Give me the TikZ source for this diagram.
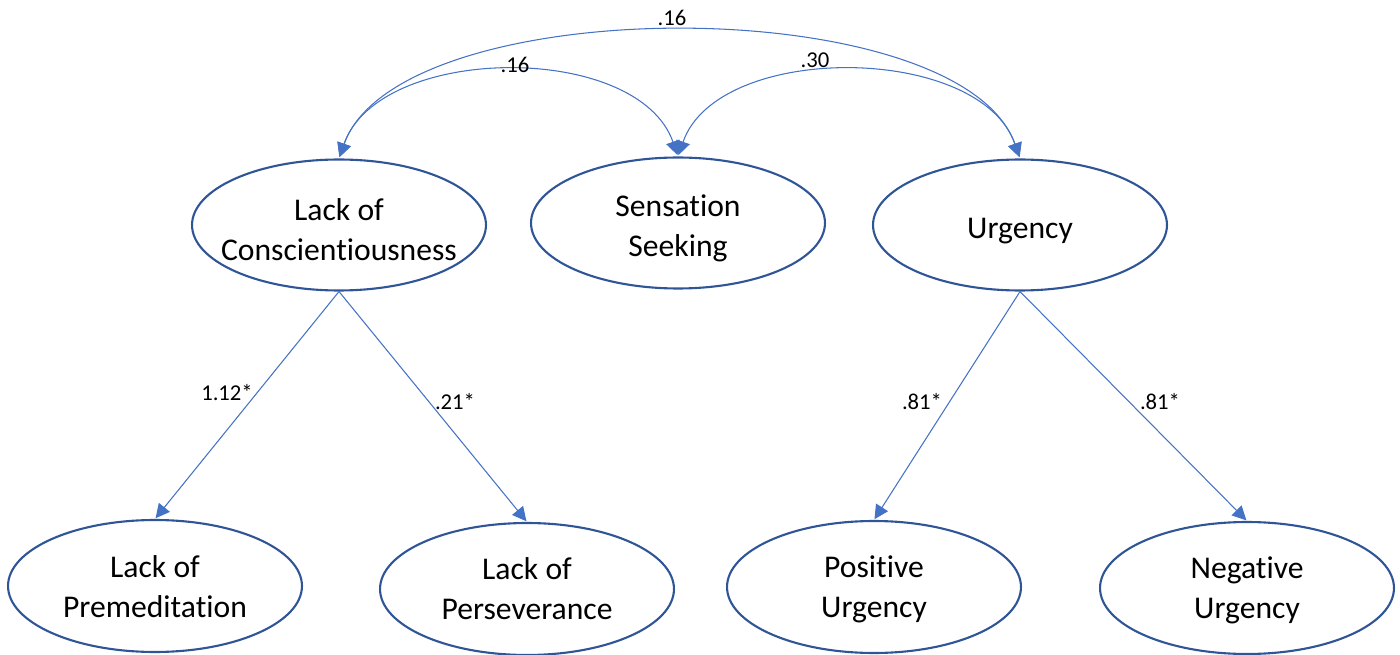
\documentclass[tikz,border=0pt]{standalone}
\usepackage{fontspec}
\setmainfont{Carlito}[Ligatures=NoCommon]
\usetikzlibrary{arrows.meta,shapes.geometric}
\definecolor{ellblue}{HTML}{2F5597}
\definecolor{arrblue}{HTML}{4472C4}
% a centred line of zero width, its ink moved down by #1 (box size kept)
\newcommand{\tline}[2][2.8pt]{\raisebox{-#1}[\height][\depth]{\makebox[0pt]{#2}}}
\begin{document}
\begin{tikzpicture}[x=0.02cm,y=-0.02cm,
  latent/.style={draw=ellblue, line width=1.2pt, ellipse, minimum width=5.88cm,
    minimum height=2.62cm, inner sep=0pt, align=center,
    font=\fontsize{18}{22.7}\selectfont},
  lowlatent/.style={latent, minimum height=2.64cm},
  conn/.style={draw=arrblue, line width=0.6pt, -{Triangle[length=8pt,width=8pt]}},
  cov/.style={draw=arrblue, line width=0.6pt,
    {Triangle[length=8pt,width=8pt]}-{Triangle[length=8pt,width=8pt]},
    shorten >=0.8pt, shorten <=0.8pt},
  lab/.style={font=\fontsize{12.9}{14}\selectfont, inner sep=1pt}
]
\useasboundingbox (0,0) rectangle (1400,655);

% factors
\node[latent] (loc) at (339,225) {\tline{Lack of}\\\tline{Conscientiousness}};
\node[latent] (ss)  at (678,223) {\tline{Sensation}\\\tline{Seeking}};
\node[latent] (urg) at (1020,225) {\tline[3.5pt]{Urgency}};

% indicators
\node[lowlatent] (prem) at (155,586) {\tline[0.6pt]{Lack of}\\\tline[0.6pt]{Premeditation}};
\node[lowlatent] (pers) at (527,589) {\tline[0pt]{Lack of}\\\tline[0pt]{Perseverance}};
\node[lowlatent] (pos)  at (874,587) {\tline[1.2pt]{Positive}\\\tline[1.2pt]{Urgency}};
\node[lowlatent] (neg)  at (1247,588) {\tline[1.2pt]{Negative}\\\tline[1.2pt]{Urgency}};

% loadings
\draw[conn, shorten >=0.5pt] (loc.south) -- (prem.north);
\draw[conn, shorten >=0.5pt] (loc.south) -- (pers.north);
\draw[conn, shorten >=0.5pt] (urg.south) -- (pos.north);
\draw[conn, shorten >=0.5pt] (urg.south) -- (neg.north);

\node[lab] (l1) at (227,393) {1.12*};
\node[lab] (l2) at (455,402) {.21*};
\node[lab] (l3) at (922,402) {.81*};
\node[lab] (l4) at (1160,402) {.81*};

% covariances
\draw[cov] (loc.north) .. controls +(60,-169) and +(-60,-169) .. (urg.north);
\draw[cov] (loc.north) .. controls +(40,-115) and +(-40,-115) .. (ss.north);
\draw[cov] (ss.north) .. controls +(40,-115) and +(-40,-115) .. (urg.north);

\node[lab] (c1) at (672,18) {.16};
\node[lab] (c2) at (515,65) {.16};
\node[lab] (c3) at (815,60) {.30};
\end{tikzpicture}
\end{document}
